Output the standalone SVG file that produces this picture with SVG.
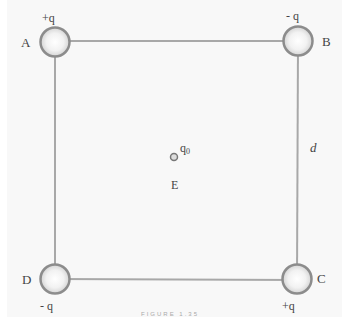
<svg xmlns="http://www.w3.org/2000/svg" width="346" height="320" viewBox="0 0 346 320">
<defs>
<radialGradient id="ball" cx="0.5" cy="0.5" r="0.5">
<stop offset="0" stop-color="#ffffff"/>
<stop offset="0.6" stop-color="#f2f2f2"/>
<stop offset="1" stop-color="#d4d4d4"/>
</radialGradient>
<style>
.edge{stroke:#a8a8a8;stroke-width:2;fill:none}
.ball{fill:url(#ball);stroke:#8c8c8c;stroke-width:2.5}
.t{font-family:"Liberation Serif",serif;font-size:13px;fill:#444}
.s{font-family:"Liberation Serif",serif;font-size:12px;fill:#444}
</style>
</defs>
<rect x="0" y="0" width="346" height="320" fill="#ffffff"/>
<rect x="7" y="0" width="335" height="317" fill="#f8f8f8"/>
<g id="connectors">
<line class="edge" x1="55" y1="41" x2="298" y2="41"/>
<line class="edge" x1="298" y1="41" x2="297" y2="280"/>
<line class="edge" x1="297" y1="280" x2="55" y2="279"/>
<line class="edge" x1="55" y1="279" x2="55" y2="41"/>
</g>
<g id="A"><circle class="ball" cx="55" cy="42" r="14.5"/><text class="t" x="21" y="47">A</text><text class="s" x="42" y="22">+q</text></g>
<g id="B"><circle class="ball" cx="298" cy="41" r="14.5"/><text class="t" x="322" y="46">B</text><text class="s" x="286" y="20">- q</text></g>
<g id="D"><circle class="ball" cx="55" cy="279" r="14.5"/><text class="t" x="22" y="284">D</text><text class="s" x="40" y="310">- q</text></g>
<g id="C"><circle class="ball" cx="297" cy="279" r="14.5"/><text class="t" x="317" y="283">C</text><text class="s" x="282" y="310">+q</text></g>
<g id="E"><circle cx="174" cy="157" r="3.5" fill="#ddd" stroke="#777" stroke-width="1.5"/><text class="s" x="180" y="152">q<tspan font-size="8" dy="2">0</tspan></text><text class="s" x="171" y="189">E</text></g>
<text class="t" x="310" y="152" font-style="italic">d</text>
<text x="170" y="316" font-family="Liberation Sans,sans-serif" font-size="6" fill="#aaa" text-anchor="middle" letter-spacing="2">FIGURE 1.35</text>
</svg>
